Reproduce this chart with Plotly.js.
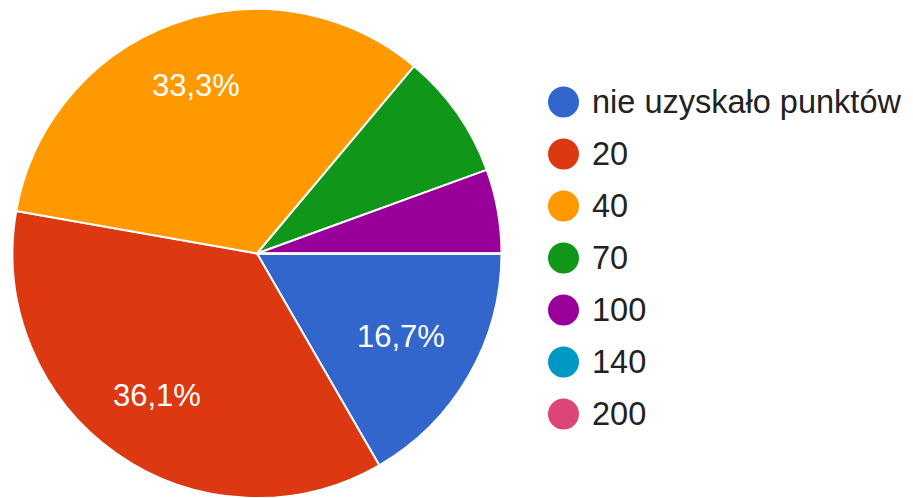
<!DOCTYPE html>
<html>
<head>
<meta charset="utf-8">
<script src="https://cdn.plot.ly/plotly-3.0.1.min.js"></script>
<style>
  html, body { margin: 0; padding: 0; background: #ffffff; }
  #chart { width: 913px; height: 498px; }
</style>
</head>
<body>
<div id="chart"></div>
<script>
// ---- data ----
const labels = ["nie uzyskało punktów", "20", "40", "70", "100", "140", "200"];
const counts = [6, 13, 12, 3, 2, 0, 0];
const colors = ["#3366CC", "#DC3912", "#FF9900", "#109618", "#990099", "#0099C6", "#DD4477"];
const showPct = [true, true, true, false, false, false, false];

// ---- layout geometry (pixels) ----
const W = 913, H = 498;
const cx = 257, cy = 253.5, R = 244.5;   // pie centre / radius
const labelR = [0.68, 0.71, 0.73, 0.7, 0.7, 0.7, 0.7]; // label radius fraction per slice
const legX = 563.5, legY0 = 102, legStep = 52, legD = 31, legTextX = 590;
const FONT = "Liberation Sans, Arial, sans-serif";

const total = counts.reduce((a, b) => a + b, 0);

const pie = {
  type: "pie",
  values: counts,
  labels: labels,
  sort: false,
  direction: "clockwise",
  rotation: 90,
  marker: { colors: colors, line: { color: "#ffffff", width: 2 } },
  textinfo: "none",
  hoverinfo: "skip",
  showlegend: false,
  domain: { x: [(cx - R) / W, (cx + R) / W], y: [1 - (cy + R) / H, 1 - (cy - R) / H] }
};

const annotations = [];
const shapes = [];

// percentage labels placed at the mid-angle of each slice
let cum = 0;
counts.forEach((v, i) => {
  const frac = v / total;
  const mid = (cum + frac / 2) * 2 * Math.PI; // clockwise from 3 o'clock
  cum += frac;
  if (!showPct[i]) return;
  const px = cx + labelR[i] * R * Math.cos(mid);
  const py = cy + labelR[i] * R * Math.sin(mid);
  const pct = (frac * 100).toFixed(1).replace(".", ",") + "%";
  annotations.push({
    xref: "paper", yref: "paper",
    x: px / W, y: 1 - py / H,
    xanchor: "center", yanchor: "middle",
    text: pct, showarrow: false,
    font: { family: FONT, size: 31, color: "#ffffff" }
  });
});

// custom legend (round markers)
labels.forEach((lab, i) => {
  const y = legY0 + i * legStep;
  shapes.push({
    type: "circle", xref: "paper", yref: "paper",
    x0: (legX - legD / 2) / W, x1: (legX + legD / 2) / W,
    y0: 1 - (y + legD / 2) / H, y1: 1 - (y - legD / 2) / H,
    fillcolor: colors[i], line: { width: 0 }
  });
  annotations.push({
    xref: "paper", yref: "paper",
    x: legTextX / W, y: 1 - y / H,
    xanchor: "left", yanchor: "middle",
    text: lab, showarrow: false,
    font: { family: FONT, size: 32.5, color: "#222222" }
  });
});

const layout = {
  width: W, height: H,
  margin: { l: 0, r: 0, t: 0, b: 0 },
  paper_bgcolor: "#ffffff",
  plot_bgcolor: "#ffffff",
  showlegend: false,
  annotations: annotations,
  shapes: shapes
};

Plotly.newPlot("chart", [pie], layout, { displayModeBar: false, staticPlot: true });
</script>
</body>
</html>
